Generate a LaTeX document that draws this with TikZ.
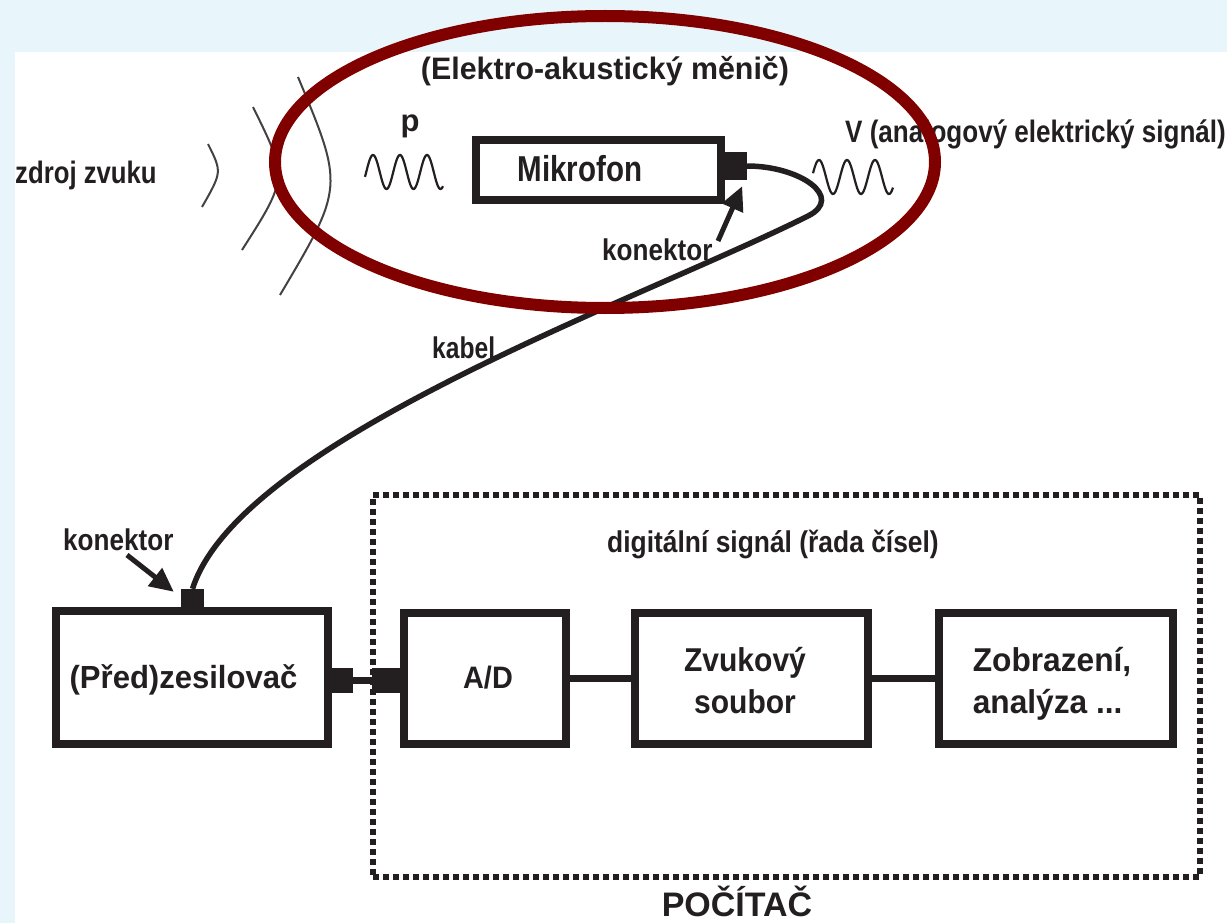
\documentclass[tikz,border=0pt]{standalone}
\usepackage{fontspec}
\setmainfont{Liberation Sans}
\usepackage{graphicx}
\usetikzlibrary{arrows.meta}

\definecolor{ink}{HTML}{231F20}
\definecolor{pagebg}{RGB}{232,246,252}
\definecolor{ring}{RGB}{128,0,0}

% horizontally condensed text
\newcommand{\nar}[2]{\scalebox{#1}[1]{#2}}
\newcommand{\fs}[1]{\fontsize{#1}{#1}\selectfont\bfseries}

\tikzset{
  box/.style={draw=ink, line width=8pt, fill=white, inner sep=0pt},
  plug/.style={fill=ink, inner sep=0pt},
  wire/.style={draw=ink, line width=7pt},
  cable/.style={draw=ink, line width=5.5pt},
  wave/.style={draw=ink, line width=2.2pt},
  front/.style={draw=ink!85, line width=2pt},
  lab/.style={text=ink, inner sep=0pt},
  pointer/.style={draw=ink, line width=5pt, -{Triangle[length=24pt,width=22pt]}},
  group/.style={draw=ink, line width=6pt, dash pattern=on 6pt off 4pt, inner sep=0pt},
}

\begin{document}
\begin{tikzpicture}[x=1pt,y=-1pt]
\useasboundingbox (0,0) rectangle (1227,923);
\fill[pagebg] (0,0) rectangle (1227,923);
\fill[white] (15,52) rectangle (1227,923);

% sound wave fronts
\draw[front] (208,144) .. controls (222,172) .. (202,207);
\draw[front] (253,107) .. controls (288,178) .. (242,250);
\draw[front] (298,77) .. controls (344,187) .. (280,295);

% pressure and voltage waveforms (periods 27 and 28)
\draw[wave] plot[domain=365:443, samples=120, smooth] (\x, {172 - 17*sin((\x-373)*13.3333 + 90)});
\draw[wave] plot[domain=813:893, samples=120, smooth] (\x, {177 - 17*sin((\x-819)*12.8571 + 90)});

% microphone
\node[box, minimum width=245pt, minimum height=60pt] (mic) at (598.5,170) {};
\node[plug, minimum width=22pt, minimum height=28pt] (mc) at (736,166) {};

% preamplifier
\node[box, minimum width=272pt, minimum height=133pt] (pre) at (192,677.5) {};
\node[plug, minimum width=23pt, minimum height=22pt] (pc) at (192.5,600) {};
\node[plug, minimum width=21pt, minimum height=25pt] (pr) at (342.5,680.5) {};

% computer
\node[group, minimum width=827pt, minimum height=382pt] (comp) at (786.5,686) {};
\node[plug, minimum width=28pt, minimum height=25pt] (adp) at (386,680.5) {};
\node[box, minimum width=162pt, minimum height=131pt] (ad) at (485,678.5) {};
\node[box, minimum width=233pt, minimum height=131pt] (zv) at (751.5,678.5) {};
\node[box, minimum width=234pt, minimum height=131pt] (zo) at (1056,678.5) {};

\draw[wire] (pr.east) -- (adp.west);
\draw[wire] (ad.east) -- (zv.west);
\draw[wire] (zv.east) -- (zo.west);

% cable from microphone to preamplifier
\coordinate (bend) at (808,216);
\draw[cable] (mc.east) .. controls (800,166) and (845,197.5) .. (bend)
  .. controls (640,300) and (240,440) .. (pc.north);

% labels
\node[lab, anchor=base, font=\fs{31}] (title) at (605,80) {\nar{0.98}{(Elektro-akustický měnič)}};
\node[lab, anchor=base, font=\fs{31}] (plab) at (410,132) {p};
\node[lab, anchor=base, font=\fs{36}] (miclab) at (580,182) {\nar{0.82}{Mikrofon}};
\node[lab, anchor=base west, font=\fs{31}] (src) at (15,183) {\nar{0.83}{zdroj zvuku}};
\node[lab, anchor=base west, font=\fs{31}] (vlab) at (845,143) {\nar{0.84}{V (analogový elektrický signál)}};
\node[lab, anchor=base west, font=\fs{30}] (konU) at (602,260) {\nar{0.87}{konektor}};
\node[lab, anchor=base west, font=\fs{30}] (konL) at (63,550) {\nar{0.87}{konektor}};
\node[lab, anchor=base west, font=\fs{30}] (kab) at (432,358) {\nar{0.82}{kabel}};
\node[lab, anchor=base, font=\fs{32}] at (183.5,688) {\nar{0.97}{(Před)zesilovač}};
\node[lab, anchor=base, font=\fs{31}] at (488,688) {\nar{0.93}{A/D}};
\node[lab, align=center, font=\fontsize{33}{42}\selectfont\bfseries] at (745,681)
  {\nar{0.91}{Zvukový}\\\nar{0.91}{soubor}};
\node[lab, align=left, font=\fontsize{33}{42}\selectfont\bfseries] at (1052,684)
  {\nar{0.96}{Zobrazení,}\\\nar{0.96}{analýza ...}};
\node[lab, anchor=base, font=\fs{30}] at (773,552) {\nar{0.88}{digitální signál (řada čísel)}};
\node[lab, anchor=base, font=\fs{34}] at (737,916) {POČÍTAČ};

% pointers to the connectors
\coordinate (tailU) at (718,241);
\coordinate (tailL) at (127,555);
\draw[pointer] (tailU) -- ([xshift=-5pt,yshift=-6pt]mc.south east);
\draw[pointer] (tailL) -- ([xshift=-7pt,yshift=-3pt]pc.north west);

% transducer outline
\draw[ring, line width=12pt] (605,162) ellipse [x radius=330, y radius=146];
\end{tikzpicture}
\end{document}
